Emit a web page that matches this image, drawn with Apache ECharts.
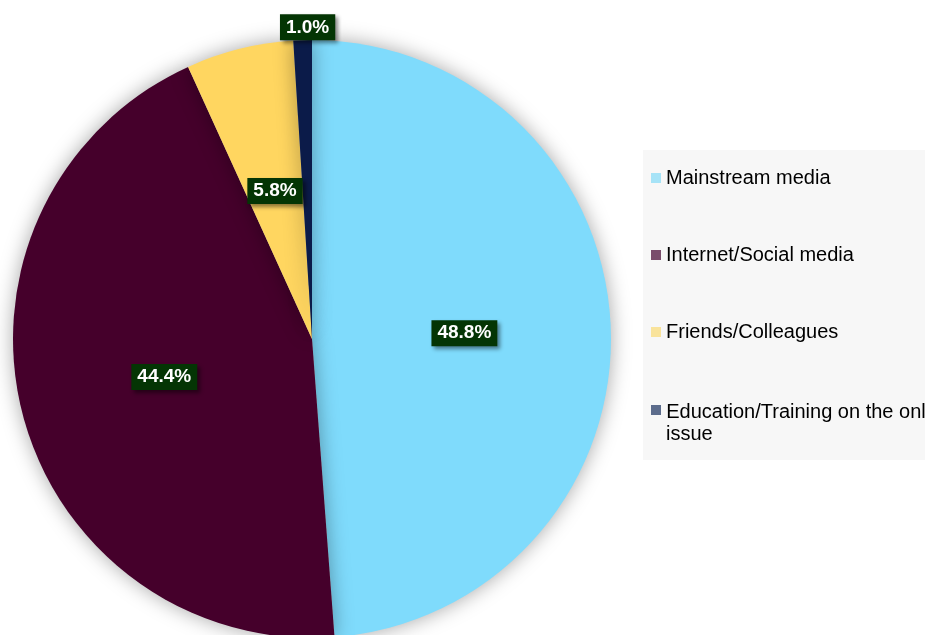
<!DOCTYPE html>
<html><head><meta charset="utf-8">
<script src="https://cdn.jsdelivr.net/npm/echarts@6/dist/echarts.min.js"></script>
<style>html,body{margin:0;padding:0;background:#fff}#c{width:925px;height:635px}</style>
</head><body><div id="c"></div>
<script>
const categories = ['Mainstream media', 'Internet/Social media', 'Friends/Colleagues', 'Education/Training on the online issue'];
const values = [48.8, 44.4, 5.8, 1.0];
const sliceColors = ['#7FDBFC', '#45002B', '#FFD660', '#0B1B49'];
const legendColors = ['#A6E3F7', '#7A4D6C', '#F9E39B', '#5C6C8C'];

const FONT = 'Liberation Sans, Arial, sans-serif';
const chart = echarts.init(document.getElementById('c'));
const labelBase = {
  color: '#fff', fontFamily: FONT, fontSize: 19, fontWeight: 'bold',
  backgroundColor: '#043504', padding: [4, 6, 3, 6],
  shadowColor: 'rgba(0,0,0,0.45)', shadowBlur: 4, shadowOffsetX: 3, shadowOffsetY: 3
};
const legendText = { fontFamily: FONT, fontSize: 20, color: '#000', lineHeight: 24 };
chart.setOption({
  animation: false,
  graphic: [{
    type: 'rect', left: 643, top: 150, z: -1,
    shape: { width: 300, height: 310 },
    style: { fill: '#F7F7F7' }
  }],
  legend: [{
    orient: 'vertical', left: 651, top: 166, padding: 0,
    itemWidth: 10, itemHeight: 10, itemGap: 53, icon: 'rect',
    textStyle: legendText,
    data: categories.slice(0, 3).map((c, i) => ({ name: c, itemStyle: { color: legendColors[i] } }))
  }, {
    orient: 'vertical', left: 651, top: 374, padding: 0,
    itemWidth: 10, itemHeight: 10, icon: 'rect',
    textStyle: Object.assign({}, legendText, {
      rich: {
        s: { fontSize: 1, lineHeight: 48 },
        a: { fontFamily: FONT, fontSize: 20, color: '#000', lineHeight: 24, verticalAlign: 'bottom' },
        b: { fontFamily: FONT, fontSize: 20, color: '#000', lineHeight: 24 }
      }
    }),
    formatter: () => '{s| }{a|Education/Training on the online}\n{b|issue}',
    data: [{ name: categories[3], itemStyle: { color: legendColors[3] } }]
  }],
  series: [{
    type: 'pie',
    center: [312, 339], radius: 299,
    startAngle: 90, clockwise: true,
    avoidLabelOverlap: false,
    itemStyle: { shadowColor: 'rgba(0,0,0,0.35)', shadowBlur: 20 },
    label: Object.assign({ position: 'inside', formatter: p => p.value.toFixed(1) + '%' }, labelBase),
    labelLine: { show: false },
    emphasis: { disabled: true },
    labelLayout: p => p.dataIndex === 3 ? { align: 'center', verticalAlign: 'bottom', dx: 10 } : null,
    data: values.map((v, i) => {
      const d = { name: categories[i], value: v, itemStyle: { color: sliceColors[i] } };
      if (i === 3) {
        d.label = { position: 'outside' };
        d.labelLine = { show: false, length: 0, length2: 0 };
      }
      return d;
    })
  }]
});
</script></body></html>
